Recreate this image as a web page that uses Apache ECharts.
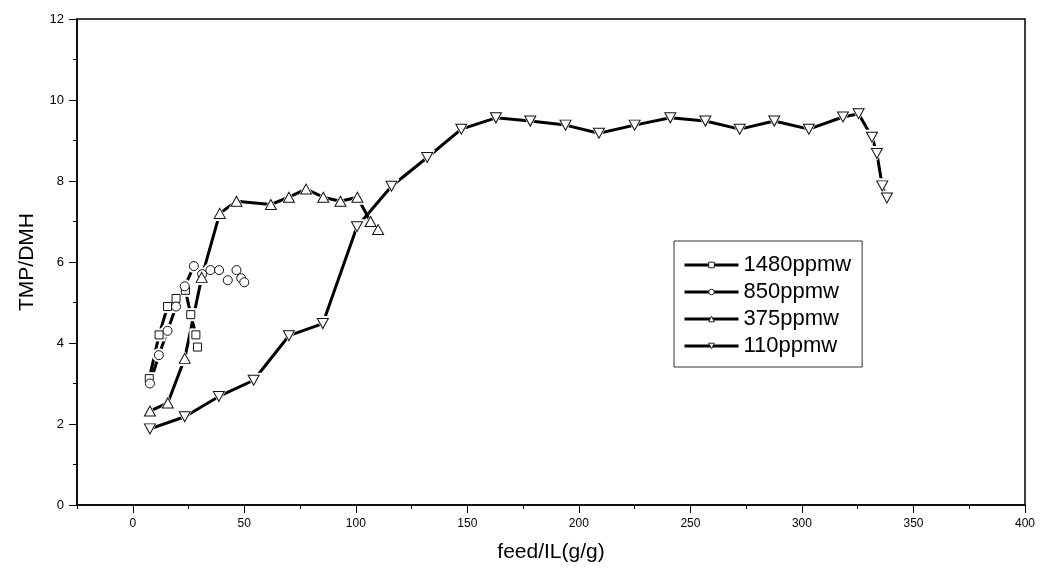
<!DOCTYPE html>
<html><head><meta charset="utf-8">
<script src="https://cdn.jsdelivr.net/npm/echarts@6/dist/echarts.min.js"></script>
<style>html,body{margin:0;padding:0;background:#fff}#c{width:1040px;height:569px}</style>
</head><body><div id="c"></div>
<script>
var seriesNames = ['1480ppmw', '850ppmw', '375ppmw', '110ppmw'];
var symbols = ['rect', 'circle', 'triangle', 'path://M0,0 L10,0 L5,9 Z'];

var x1480 = [7.4, 11.8, 15.6, 19.4, 23.6, 26.0, 28.3, 29.0];
var y1480 = [3.12, 4.2, 4.9, 5.1, 5.3, 4.7, 4.2, 3.9];

var x850 = [7.7, 11.7, 15.6, 19.4, 23.3, 27.4, 31.1, 34.8, 38.7, 42.6, 46.5, 48.6, 50.0];
var y850 = [3.0, 3.7, 4.3, 4.9, 5.4, 5.9, 5.7, 5.8, 5.8, 5.55, 5.8, 5.6, 5.5];

var x375 = [7.7, 15.7, 23.3, 30.9, 39.0, 46.5, 61.9, 70.0, 77.7, 85.4, 93.1, 100.7, 106.6, 110.0];
var y375 = [2.32, 2.52, 3.62, 5.62, 7.2, 7.5, 7.42, 7.6, 7.8, 7.6, 7.5, 7.6, 7.0, 6.8];

var x110 = [7.7, 23.3, 38.6, 54.2, 70.0, 85.2, 100.5, 116.0, 132.0, 147.3, 162.8, 178.2, 194.0, 209.0, 225.0, 241.0, 256.7, 272.1, 287.6, 303.1, 318.4, 325.4, 331.4, 333.6, 336.0, 338.1];
var y110 = [1.88, 2.18, 2.68, 3.08, 4.18, 4.48, 6.87, 7.87, 8.58, 9.28, 9.56, 9.48, 9.38, 9.18, 9.38, 9.56, 9.48, 9.28, 9.48, 9.28, 9.58, 9.66, 9.08, 8.68, 7.88, 7.58];

var xMin = -25, xMax = 400, xMinorStep = 25;
var xMajorTicks = [0, 50, 100, 150, 200, 250, 300, 350, 400];
var yMin = 0, yMax = 12, yStep = 2;

function pairs(xs, ys) { return xs.map(function (x, i) { return [x, ys[i]]; }); }
var allX = [x1480, x850, x375, x110];
var allY = [y1480, y850, y375, y110];
var markSize = [[8, 8], [9, 9], [11, 10], [11, 10]];
var gapSize = [[13, 13], [14, 14], [16, 15], [16, 15]];

var font = 'Liberation Sans, Arial, sans-serif';
var series = [];
seriesNames.forEach(function (n, i) {
  series.push({
    name: n, type: 'line', data: pairs(allX[i], allY[i]),
    symbol: symbols[i], symbolSize: gapSize[i], showSymbol: true,
    lineStyle: {color: '#000', width: 3},
    itemStyle: {color: '#fff', borderWidth: 0},
    emphasis: {disabled: true}, z: 2
  });
});
seriesNames.forEach(function (n, i) {
  series.push({
    name: n, type: 'scatter', data: pairs(allX[i], allY[i]),
    symbol: symbols[i], symbolSize: markSize[i],
    itemStyle: {color: '#fff', borderColor: '#111', borderWidth: 1, opacity: 1},
    emphasis: {disabled: true}, z: 4
  });
});

var chart = echarts.init(document.getElementById('c'), null, {renderer: 'canvas'});
chart.setOption({
  animation: false,
  backgroundColor: '#fff',
  grid: {left: 77, right: 15, top: 19, bottom: 64, show: true, borderColor: '#000', borderWidth: 1.5, containLabel: false},
  legend: {
    orient: 'vertical', left: 674, top: 241,
    padding: [13, 11, 10, 9],
    borderColor: '#333', borderWidth: 1,
    itemWidth: 54, itemHeight: 7, itemGap: 5,
    itemStyle: {color: '#fff', borderColor: '#222', borderWidth: 1},
    lineStyle: {color: '#000', width: 3},
    textStyle: {fontFamily: font, fontSize: 22, color: '#000', lineHeight: 22},
    data: seriesNames
  },
  xAxis: [{
    type: 'value', min: xMin, max: xMax, interval: xMinorStep,
    name: 'feed/IL(g/g)', nameLocation: 'middle', nameGap: 37,
    nameTextStyle: {fontFamily: font, fontSize: 21, color: '#000'},
    axisLine: {show: true, onZero: false, lineStyle: {color: '#000', width: 1.5}},
    axisTick: {show: true, inside: false, length: 8, customValues: xMajorTicks, lineStyle: {color: '#000', width: 1}},
    axisLabel: {fontFamily: font, fontSize: 12, color: '#000', margin: 13, customValues: xMajorTicks},
    splitLine: {show: false}
  }, {
    type: 'value', min: xMin, max: xMax, interval: xMinorStep, position: 'bottom', gridIndex: 0,
    axisLine: {show: false, onZero: false},
    axisTick: {show: true, inside: false, length: 4, lineStyle: {color: '#000', width: 1}},
    axisLabel: {show: false},
    splitLine: {show: false}
  }],
  yAxis: {
    type: 'value', min: yMin, max: yMax, interval: yStep,
    name: 'TMP/DMH', nameLocation: 'middle', nameGap: 39,
    nameTextStyle: {fontFamily: font, fontSize: 21, color: '#000'},
    axisLine: {show: true, onZero: false, lineStyle: {color: '#000', width: 1.5}},
    axisTick: {show: true, inside: false, length: 8, lineStyle: {color: '#000', width: 1}},
    minorTick: {show: true, splitNumber: 2, length: 4, lineStyle: {color: '#000', width: 1}},
    axisLabel: {fontFamily: font, fontSize: 13, color: '#000', margin: 13},
    splitLine: {show: false}
  },
  series: series
});
</script></body></html>
